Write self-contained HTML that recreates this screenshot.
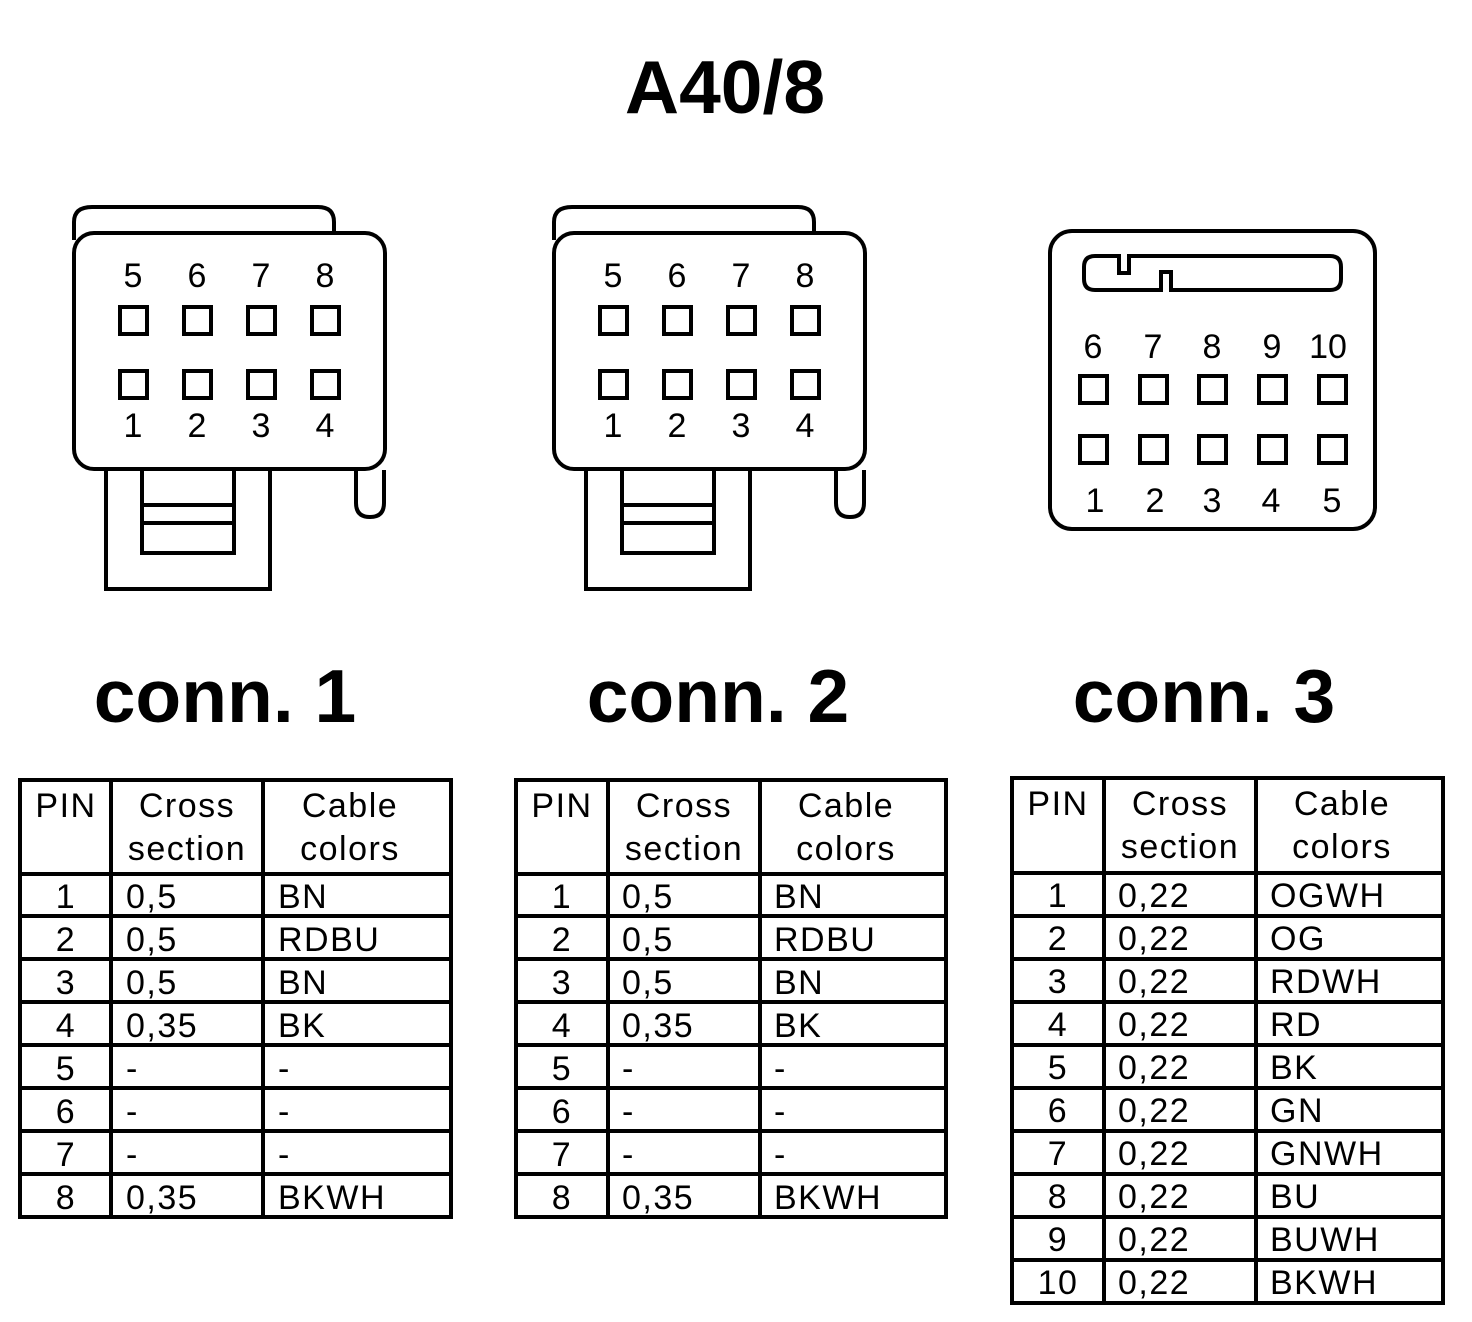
<!DOCTYPE html>
<html><head><meta charset="utf-8"><style>
html,body{margin:0;padding:0;background:#fff;}
svg{display:block;}
text{font-family:"Liberation Sans",Arial,sans-serif;fill:#000;}
.t text{letter-spacing:1.5px;}
</style></head><body>
<svg width="1472" height="1322" viewBox="0 0 1472 1322" xmlns="http://www.w3.org/2000/svg">
<rect width="1472" height="1322" fill="#fff"/>
<text x="725" y="113" font-size="75" font-weight="bold" text-anchor="middle">A40/8</text>

<g fill="none" stroke="#000" stroke-width="4">
  <path d="M74,240 V222 Q74,207 92,207 H318 Q334,207 334,222 V234"/>
  <path d="M356,470 V503 Q356,517 370,517 Q384,517 384,503 V470"/>
  <rect x="74" y="233" width="311" height="236" rx="20" fill="#fff"/>
  <path d="M106,470 V589 H270 V470"/>
  <path d="M142,470 V553 H234 V470 M142,505 H234 M142,523 H234"/>
  <rect x="120" y="307" width="27" height="27"/><rect x="184" y="307" width="27" height="27"/><rect x="248" y="307" width="27" height="27"/><rect x="312" y="307" width="27" height="27"/>
  <rect x="120" y="371" width="27" height="27"/><rect x="184" y="371" width="27" height="27"/><rect x="248" y="371" width="27" height="27"/><rect x="312" y="371" width="27" height="27"/>
</g>
<g font-size="34" text-anchor="middle">
  <text x="133" y="287">5</text><text x="197" y="287">6</text><text x="261" y="287">7</text><text x="325" y="287">8</text>
  <text x="133" y="437">1</text><text x="197" y="437">2</text><text x="261" y="437">3</text><text x="325" y="437">4</text>
</g>

<g fill="none" stroke="#000" stroke-width="4">
  <path d="M554,240 V222 Q554,207 572,207 H798 Q814,207 814,222 V234"/>
  <path d="M836,470 V503 Q836,517 850,517 Q864,517 864,503 V470"/>
  <rect x="554" y="233" width="311" height="236" rx="20" fill="#fff"/>
  <path d="M586,470 V589 H750 V470"/>
  <path d="M622,470 V553 H714 V470 M622,505 H714 M622,523 H714"/>
  <rect x="600" y="307" width="27" height="27"/><rect x="664" y="307" width="27" height="27"/><rect x="728" y="307" width="27" height="27"/><rect x="792" y="307" width="27" height="27"/>
  <rect x="600" y="371" width="27" height="27"/><rect x="664" y="371" width="27" height="27"/><rect x="728" y="371" width="27" height="27"/><rect x="792" y="371" width="27" height="27"/>
</g>
<g font-size="34" text-anchor="middle">
  <text x="613" y="287">5</text><text x="677" y="287">6</text><text x="741" y="287">7</text><text x="805" y="287">8</text>
  <text x="613" y="437">1</text><text x="677" y="437">2</text><text x="741" y="437">3</text><text x="805" y="437">4</text>
</g>

<g fill="none" stroke="#000" stroke-width="4">
  <rect x="1050" y="231" width="325" height="298" rx="22"/>
  <path d="M1095,256 H1119 V273 H1129 V256 H1330 Q1341,256 1341,267 V279 Q1341,290 1330,290 H1171 V272 H1161 V290 H1095 Q1084,290 1084,279 V267 Q1084,256 1095,256 Z"/>
  <rect x="1080" y="376" width="27" height="27"/><rect x="1140" y="376" width="27" height="27"/><rect x="1199" y="376" width="27" height="27"/><rect x="1259" y="376" width="27" height="27"/><rect x="1319" y="376" width="27" height="27"/>
  <rect x="1080" y="436" width="27" height="27"/><rect x="1140" y="436" width="27" height="27"/><rect x="1199" y="436" width="27" height="27"/><rect x="1259" y="436" width="27" height="27"/><rect x="1319" y="436" width="27" height="27"/>
</g>
<g font-size="34" text-anchor="middle">
  <text x="1093" y="358">6</text><text x="1153" y="358">7</text><text x="1212" y="358">8</text><text x="1272" y="358">9</text><text x="1328" y="358">10</text>
  <text x="1095" y="512">1</text><text x="1155" y="512">2</text><text x="1212" y="512">3</text><text x="1271" y="512">4</text><text x="1332" y="512">5</text>
</g>

<g font-size="75" font-weight="bold" text-anchor="middle">
  <text x="225" y="722">conn. 1</text>
  <text x="718" y="722">conn. 2</text>
  <text x="1204" y="722">conn. 3</text>
</g>

<g fill="none" stroke="#000" stroke-width="4">
  <rect x="20" y="780" width="431" height="437"/>
  <path d="M111,780 V1217 M263,780 V1217"/>
  <path d="M20,874 H451 M20,916 H451 M20,959 H451 M20,1002 H451 M20,1045 H451 M20,1088 H451 M20,1131 H451 M20,1174 H451"/>
</g>
<g font-size="34" class="t">
  <text x="66" y="817" text-anchor="middle">PIN</text>
  <text x="187" y="817" text-anchor="middle">Cross</text><text x="187" y="860" text-anchor="middle">section</text>
  <text x="350" y="817" text-anchor="middle">Cable</text><text x="350" y="860" text-anchor="middle">colors</text>
  <g text-anchor="middle"><text x="66" y="908">1</text><text x="66" y="951">2</text><text x="66" y="994">3</text><text x="66" y="1037">4</text><text x="66" y="1080">5</text><text x="66" y="1123">6</text><text x="66" y="1166">7</text><text x="66" y="1209">8</text></g>
  <text x="126" y="908">0,5</text><text x="126" y="951">0,5</text><text x="126" y="994">0,5</text><text x="126" y="1037">0,35</text><text x="126" y="1080">-</text><text x="126" y="1123">-</text><text x="126" y="1166">-</text><text x="126" y="1209">0,35</text>
  <text x="278" y="908">BN</text><text x="278" y="951">RDBU</text><text x="278" y="994">BN</text><text x="278" y="1037">BK</text><text x="278" y="1080">-</text><text x="278" y="1123">-</text><text x="278" y="1166">-</text><text x="278" y="1209">BKWH</text>
</g>

<g fill="none" stroke="#000" stroke-width="4">
  <rect x="516" y="780" width="430" height="437"/>
  <path d="M608,780 V1217 M760,780 V1217"/>
  <path d="M516,874 H946 M516,916 H946 M516,959 H946 M516,1002 H946 M516,1045 H946 M516,1088 H946 M516,1131 H946 M516,1174 H946"/>
</g>
<g font-size="34" class="t">
  <text x="562" y="817" text-anchor="middle">PIN</text>
  <text x="684" y="817" text-anchor="middle">Cross</text><text x="684" y="860" text-anchor="middle">section</text>
  <text x="846" y="817" text-anchor="middle">Cable</text><text x="846" y="860" text-anchor="middle">colors</text>
  <g text-anchor="middle"><text x="562" y="908">1</text><text x="562" y="951">2</text><text x="562" y="994">3</text><text x="562" y="1037">4</text><text x="562" y="1080">5</text><text x="562" y="1123">6</text><text x="562" y="1166">7</text><text x="562" y="1209">8</text></g>
  <text x="622" y="908">0,5</text><text x="622" y="951">0,5</text><text x="622" y="994">0,5</text><text x="622" y="1037">0,35</text><text x="622" y="1080">-</text><text x="622" y="1123">-</text><text x="622" y="1166">-</text><text x="622" y="1209">0,35</text>
  <text x="774" y="908">BN</text><text x="774" y="951">RDBU</text><text x="774" y="994">BN</text><text x="774" y="1037">BK</text><text x="774" y="1080">-</text><text x="774" y="1123">-</text><text x="774" y="1166">-</text><text x="774" y="1209">BKWH</text>
</g>

<g fill="none" stroke="#000" stroke-width="4">
  <rect x="1012" y="778" width="431" height="525"/>
  <path d="M1104,778 V1303 M1256,778 V1303"/>
  <path d="M1012,873 H1443 M1012,916 H1443 M1012,959 H1443 M1012,1002 H1443 M1012,1045 H1443 M1012,1088 H1443 M1012,1131 H1443 M1012,1174 H1443 M1012,1217 H1443 M1012,1260 H1443"/>
</g>
<g font-size="34" class="t">
  <text x="1058" y="815" text-anchor="middle">PIN</text>
  <text x="1180" y="815" text-anchor="middle">Cross</text><text x="1180" y="858" text-anchor="middle">section</text>
  <text x="1342" y="815" text-anchor="middle">Cable</text><text x="1342" y="858" text-anchor="middle">colors</text>
  <g text-anchor="middle"><text x="1058" y="907">1</text><text x="1058" y="950">2</text><text x="1058" y="993">3</text><text x="1058" y="1036">4</text><text x="1058" y="1079">5</text><text x="1058" y="1122">6</text><text x="1058" y="1165">7</text><text x="1058" y="1208">8</text><text x="1058" y="1251">9</text><text x="1058" y="1294">10</text></g>
  <text x="1118" y="907">0,22</text><text x="1118" y="950">0,22</text><text x="1118" y="993">0,22</text><text x="1118" y="1036">0,22</text><text x="1118" y="1079">0,22</text><text x="1118" y="1122">0,22</text><text x="1118" y="1165">0,22</text><text x="1118" y="1208">0,22</text><text x="1118" y="1251">0,22</text><text x="1118" y="1294">0,22</text>
  <text x="1270" y="907">OGWH</text><text x="1270" y="950">OG</text><text x="1270" y="993">RDWH</text><text x="1270" y="1036">RD</text><text x="1270" y="1079">BK</text><text x="1270" y="1122">GN</text><text x="1270" y="1165">GNWH</text><text x="1270" y="1208">BU</text><text x="1270" y="1251">BUWH</text><text x="1270" y="1294">BKWH</text>
</g>
</svg>
</body></html>
